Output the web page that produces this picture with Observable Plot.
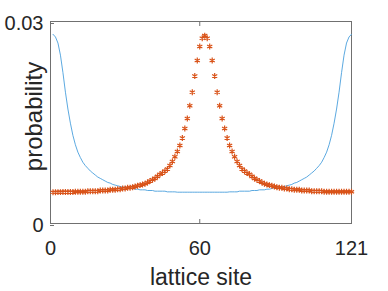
<!DOCTYPE html>
<html><head><meta charset="utf-8">
<script src="https://cdn.jsdelivr.net/npm/d3@7"></script>
<script src="https://cdn.jsdelivr.net/npm/@observablehq/plot@0.6"></script>
<style>html,body{margin:0;padding:0;background:#fff;overflow:hidden} svg{display:block}</style>
</head><body><div id="chart"></div>
<script>
// lattice sites 1..121
const sites = d3.range(1, 122);

// blue: edge-localised state
const blueValues = [
  0.0281, 0.0277, 0.0268, 0.0250, 0.0224, 0.0195, 0.0170, 0.0149, 0.0131, 0.0117,
  0.0106, 0.0098, 0.0091, 0.0086, 0.0082, 0.0078, 0.0075, 0.0072, 0.0069, 0.0067,
  0.0065, 0.0063, 0.0061, 0.0060, 0.0058, 0.0057, 0.0056, 0.0055, 0.0054, 0.0054,
  0.0053, 0.0053, 0.0052, 0.0051, 0.0051, 0.0050, 0.0050, 0.0050, 0.0049, 0.0049,
  0.0049, 0.0048, 0.0048, 0.0048, 0.0048, 0.0048, 0.0047, 0.0047, 0.0047, 0.0047,
  0.00465, 0.00465, 0.00465, 0.00465, 0.00465, 0.00465, 0.00465, 0.00465, 0.00465, 0.00465,
  0.00465,
  0.00465, 0.00465, 0.00465, 0.00465, 0.00465, 0.00465, 0.00465, 0.00465, 0.00465, 0.00465,
  0.0047, 0.0047, 0.0047, 0.0047, 0.0048, 0.0048, 0.0048, 0.0048, 0.0048, 0.0049,
  0.0049, 0.0049, 0.0050, 0.0050, 0.0050, 0.0051, 0.0051, 0.0052, 0.0053, 0.0053,
  0.0054, 0.0054, 0.0055, 0.0056, 0.0057, 0.0058, 0.0060, 0.0061, 0.0063, 0.0065,
  0.0067, 0.0069, 0.0072, 0.0075, 0.0078, 0.0082, 0.0086, 0.0091, 0.0098, 0.0106,
  0.0117, 0.0131, 0.0149, 0.0170, 0.0195, 0.0224, 0.0250, 0.0268, 0.0277, 0.0281
];

// orange: centre-localised state
const orangeValues = [
  0.00465, 0.00465, 0.00466, 0.00466, 0.00467, 0.00467, 0.00468, 0.00468, 0.00469, 0.0047,
  0.0047, 0.0047, 0.0047, 0.0047, 0.0048, 0.0048, 0.0048, 0.0048, 0.0048, 0.0049,
  0.0049, 0.0049, 0.0049, 0.0050, 0.0050, 0.0050, 0.0051, 0.0051, 0.0052, 0.0052,
  0.0053, 0.0053, 0.0054, 0.0055, 0.0056, 0.0057, 0.0058, 0.0059, 0.0061, 0.0063,
  0.0065, 0.0067, 0.0070, 0.0073, 0.0075, 0.0078, 0.0081, 0.0086, 0.0092, 0.0099,
  0.0107, 0.0116, 0.0127, 0.0141, 0.0156, 0.0175, 0.0195, 0.0219, 0.0242, 0.0263,
  0.0275, 0.0279, 0.0275,
  0.0263, 0.0242, 0.0219, 0.0195, 0.0175, 0.0156, 0.0141, 0.0127, 0.0116, 0.0107,
  0.0099, 0.0092, 0.0086, 0.0081, 0.0078, 0.0075, 0.0073, 0.0070, 0.0067, 0.0065,
  0.0063, 0.0061, 0.0059, 0.0058, 0.0057, 0.0056, 0.0055, 0.0054, 0.0053, 0.0053,
  0.0052, 0.0052, 0.0051, 0.0051, 0.0050, 0.0050, 0.0050, 0.0049, 0.0049, 0.0049,
  0.0049, 0.0048, 0.0048, 0.0048, 0.0048, 0.0048, 0.0047, 0.0047, 0.0047, 0.0047,
  0.0047, 0.0047, 0.0047, 0.0047, 0.0047, 0.0047, 0.0047, 0.0047
];

const xTicks = [0, 60, 121];
const yTicks = [0, 0.03];
const yTickLabels = ["0", "0.03"];
const xLabel = "lattice site";
const yLabel = "probability";

const blue = sites.map((s, i) => ({site: s, p: blueValues[i]}));
const orange = sites.map((s, i) => ({site: s, p: orangeValues[i]}));

const plot = Plot.plot({
  width: 388,
  height: 291,
  marginLeft: 50,
  marginRight: 37,
  marginTop: 21,
  marginBottom: 68,
  style: {fontFamily: "'Liberation Sans', Arial, Helvetica, sans-serif", background: "#fff", color: "#262626", overflow: "visible"},
  x: {domain: [0, 121]},
  y: {domain: [0, 0.03]},
  marks: [
    Plot.frame({stroke: "#707070", strokeWidth: 1}),
    Plot.axisX({ticks: xTicks, tickSize: -4, tickPadding: 21, tickFormat: d => String(d), label: null, fontSize: 20, stroke: "#707070", fill: "#262626"}),
    Plot.axisX({anchor: "top", ticks: [60], tickSize: -4, tickFormat: () => "", label: null, stroke: "#707070"}),
    Plot.axisY({ticks: yTicks, tickSize: -4, tickPadding: 11, tickFormat: (d, i) => yTickLabels[i], label: null, fontSize: 20, dy: 2, stroke: "#707070", fill: "#262626"}),
    Plot.line(blue, {x: "site", y: "p", stroke: "#4a9fdc", strokeWidth: 0.9}),
    Plot.dot(orange, {x: "site", y: "p", symbol: "asterisk", r: 2.8, stroke: "#D95319", strokeWidth: 1.2}),
    Plot.text([xLabel], {frameAnchor: "bottom", dy: 54.6, lineAnchor: "middle", textAnchor: "middle", fontSize: 23, fill: "#262626"}),
    Plot.text([yLabel], {frameAnchor: "left", rotate: -90, dx: -16.4, dy: -6, lineAnchor: "middle", textAnchor: "middle", fontSize: 24, fill: "#262626"})
  ]
});
document.getElementById("chart").appendChild(plot);
</script>
</body></html>
